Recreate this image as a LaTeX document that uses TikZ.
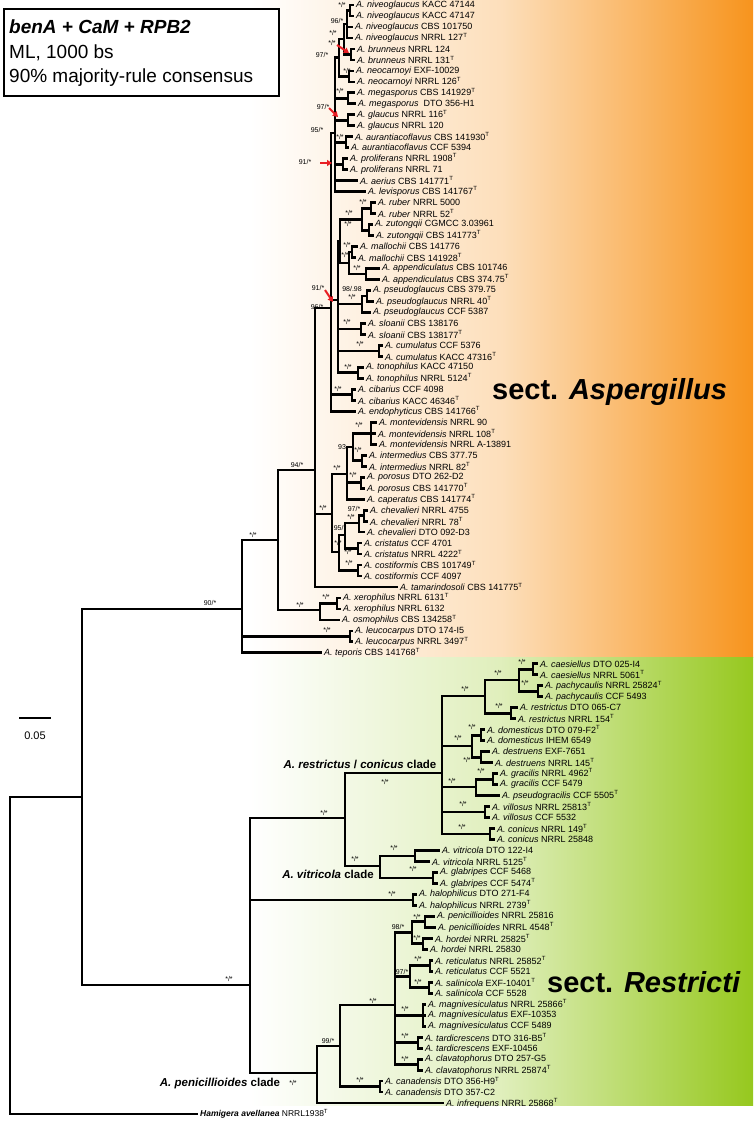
\documentclass[tikz,border=0pt]{standalone}
\usepackage{fontspec}
\setmainfont{Liberation Sans}
\usetikzlibrary{arrows.meta}
\definecolor{sectorange}{RGB}{247,148,29}
\definecolor{sectgreen}{RGB}{150,200,30}
\definecolor{arrred}{RGB}{232,30,36}
\newcommand\spc[1]{\textit{A. #1}}
\newcommand\Tp{\textsuperscript{T}}

\begin{document}
\begin{tikzpicture}[x=1pt, y=-1pt,
  br/.style={line width=2.8pt, line cap=rect},
  tip/.style={anchor=west, inner xsep=3pt, inner ysep=0.5pt, font=\fontsize{9}{10}\selectfont},
  sup/.style={inner sep=0.5pt, font=\fontsize{7}{8}\selectfont},
  clade/.style={inner sep=0pt, font=\bfseries\fontsize{11.5}{13}\selectfont},
  sect/.style={anchor=west, inner sep=0pt, font=\bfseries\fontsize{29}{32}\selectfont},
  redarr/.style={-{Triangle[length=5pt, width=6pt]}, line width=2pt, draw=arrred}
]
\useasboundingbox (0,0) rectangle (753,1122);
\shade[left color=white, right color=sectorange, middle color=sectorange!30] (250,0) rectangle (753,657);
\shade[left color=white, right color=sectgreen, middle color=sectgreen!30] (250,657) rectangle (753,1105);

% legend
\node[draw, line width=1.5pt, fill=white, anchor=north west, minimum width=275pt, minimum height=87pt, inner sep=0pt] (legend) at (3,8) {};
\node[anchor=base west, inner sep=0pt, font=\fontsize{19}{22}\selectfont\bfseries\itshape] (lg1) at (9,33) {benA + CaM + RPB2};
\node[anchor=base west, inner sep=0pt, font=\fontsize{19}{22}\selectfont] (lg2) at (9,58) {ML, 1000 bs};
\node[anchor=base west, inner sep=0pt, font=\fontsize{19}{22}\selectfont] (lg3) at (9,82) {90\% majority-rule consensus};

% scale bar
\coordinate (sb1) at (20,718);
\coordinate (sb2) at (50,718);
\draw[br] (sb1) -- (sb2);
\node[font=\fontsize{11}{12}\selectfont] (sbl) at (35,736) {0.05};

% tips, sect. Aspergillus
\node[tip] (t1) at (353,5) {\spc{niveoglaucus} KACC 47144};
\node[tip] (t2) at (353,16) {\spc{niveoglaucus} KACC 47147};
\node[tip] (t3) at (352,27) {\spc{niveoglaucus} CBS 101750};
\node[tip] (t4) at (352,37.9) {\spc{niveoglaucus} NRRL 127\Tp};
\node[tip] (t5) at (354,48.9) {\spc{brunneus} NRRL 124};
\node[tip] (t6) at (354,59.9) {\spc{brunneus} NRRL 131\Tp};
\node[tip] (t7) at (353,70.9) {\spc{neocarnoyi} EXF-10029};
\node[tip] (t8) at (354,81.9) {\spc{neocarnoyi} NRRL 126\Tp};
\node[tip] (t9) at (354,92.8) {\spc{megasporus} CBS 141929\Tp};
\node[tip] (t10) at (355,103.8) {\spc{megasporus}~ DTO 356-H1};
\node[tip] (t11) at (354,114.8) {\spc{glaucus} NRRL 116\Tp};
\node[tip] (t12) at (354,125.8) {\spc{glaucus} NRRL 120};
\node[tip] (t13) at (352,136.8) {\spc{aurantiacoflavus} CBS 141930\Tp};
\node[tip] (t14) at (348,147.7) {\spc{aurantiacoflavus} CCF 5394};
\node[tip] (t15) at (347,158.7) {\spc{proliferans} NRRL 1908\Tp};
\node[tip] (t16) at (347,169.7) {\spc{proliferans} NRRL 71};
\node[tip] (t17) at (357,180.7) {\spc{aerius} CBS 141771\Tp};
\node[tip] (t18) at (365,191.7) {\spc{levisporus} CBS 141767\Tp};
\node[tip] (t19) at (375,202.6) {\spc{ruber} NRRL 5000};
\node[tip] (t20) at (375,213.6) {\spc{ruber} NRRL 52\Tp};
\node[tip] (t21) at (372,224.6) {\spc{zutongqii} CGMCC 3.03961};
\node[tip] (t22) at (373,235.6) {\spc{zutongqii} CBS 141773\Tp};
\node[tip] (t23) at (357,246.6) {\spc{mallochii} CBS 141776};
\node[tip] (t24) at (355,257.5) {\spc{mallochii} CBS 141928\Tp};
\node[tip] (t25) at (379,268.5) {\spc{appendiculatus} CBS 101746};
\node[tip] (t26) at (379,279.5) {\spc{appendiculatus} CBS 374.75\Tp};
\node[tip] (t27) at (370,290.5) {\spc{pseudoglaucus} CBS 379.75};
\node[tip] (t28) at (373,301.5) {\spc{pseudoglaucus} NRRL 40\Tp};
\node[tip] (t29) at (370,312.4) {\spc{pseudoglaucus} CCF 5387};
\node[tip] (t30) at (365,323.4) {\spc{sloanii} CBS 138176};
\node[tip] (t31) at (365,334.4) {\spc{sloanii} CBS 138177\Tp};
\node[tip] (t32) at (382,345.4) {\spc{cumulatus} CCF 5376};
\node[tip] (t33) at (382,356.4) {\spc{cumulatus} KACC 47316\Tp};
\node[tip] (t34) at (363,367.3) {\spc{tonophilus} KACC 47150};
\node[tip] (t35) at (363,378.3) {\spc{tonophilus} NRRL 5124\Tp};
\node[tip] (t36) at (355,389.3) {\spc{cibarius} CCF 4098};
\node[tip] (t37) at (355,400.3) {\spc{cibarius} KACC 46346\Tp};
\node[tip] (t38) at (355,411.3) {\spc{endophyticus} CBS 141766\Tp};
\node[tip] (t39) at (376,422.2) {\spc{montevidensis} NRRL 90};
\node[tip] (t40) at (375,433.2) {\spc{montevidensis} NRRL 108\Tp};
\node[tip] (t41) at (376,444.2) {\spc{montevidensis} NRRL A-13891};
\node[tip] (t42) at (366,455.2) {\spc{intermedius} CBS 377.75};
\node[tip] (t43) at (366,466.2) {\spc{intermedius} NRRL 82\Tp};
\node[tip] (t44) at (364,477.1) {\spc{porosus} DTO 262-D2};
\node[tip] (t45) at (364,488.1) {\spc{porosus} CBS 141770\Tp};
\node[tip] (t46) at (364,499.1) {\spc{caperatus} CBS 141774\Tp};
\node[tip] (t47) at (367,510.1) {\spc{chevalieri} NRRL 4755};
\node[tip] (t48) at (367,521.1) {\spc{chevalieri} NRRL 78\Tp};
\node[tip] (t49) at (364,532) {\spc{chevalieri} DTO 092-D3};
\node[tip] (t50) at (361,543) {\spc{cristatus} CCF 4701};
\node[tip] (t51) at (361,554) {\spc{cristatus} NRRL 4222\Tp};
\node[tip] (t52) at (361,565) {\spc{costiformis} CBS 101749\Tp};
\node[tip] (t53) at (361,576) {\spc{costiformis} CCF 4097};
\node[tip] (t54) at (397,586.9) {\spc{tamarindosoli} CBS 141775\Tp};
\node[tip] (t55) at (340,597.9) {\spc{xerophilus} NRRL 6131\Tp};
\node[tip] (t56) at (340,608.9) {\spc{xerophilus} NRRL 6132};
\node[tip] (t57) at (339,619.9) {\spc{osmophilus} CBS 134258\Tp};
\node[tip] (t58) at (352,630.9) {\spc{leucocarpus} DTO 174-I5};
\node[tip] (t59) at (352,641.8) {\spc{leucocarpus} NRRL 3497\Tp};
\node[tip] (t60) at (321,652.8) {\spc{teporis} CBS 141768\Tp};

% tips, sect. Restricti
\node[tip] (t61) at (537,663.8) {\spc{caesiellus} DTO 025-I4};
\node[tip] (t62) at (537,674.8) {\spc{caesiellus} NRRL 5061\Tp};
\node[tip] (t63) at (542,685.8) {\spc{pachycaulis} NRRL 25824\Tp};
\node[tip] (t64) at (542,696.7) {\spc{pachycaulis} CCF 5493};
\node[tip] (t65) at (517,707.7) {\spc{restrictus} DTO 065-C7};
\node[tip] (t66) at (515,718.7) {\spc{restrictus} NRRL 154\Tp};
\node[tip] (t67) at (484,729.7) {\spc{domesticus} DTO 079-F2\Tp};
\node[tip] (t68) at (484,740.7) {\spc{domesticus} IHEM 6549};
\node[tip] (t69) at (489,751.6) {\spc{destruens} EXF-7651};
\node[tip] (t70) at (492,762.6) {\spc{destruens} NRRL 145\Tp};
\node[tip] (t71) at (497,773.6) {\spc{gracilis} NRRL 4962\Tp};
\node[tip] (t72) at (497,784.6) {\spc{gracilis} CCF 5479};
\node[tip] (t73) at (499,795.6) {\spc{pseudogracilis} CCF 5505\Tp};
\node[tip] (t74) at (489,806.5) {\spc{villosus} NRRL 25813\Tp};
\node[tip] (t75) at (489,817.5) {\spc{villosus} CCF 5532};
\node[tip] (t76) at (494,828.5) {\spc{conicus} NRRL 149\Tp};
\node[tip] (t77) at (494,839.5) {\spc{conicus} NRRL 25848};
\node[tip] (t78) at (439,850.5) {\spc{vitricola} DTO 122-I4};
\node[tip] (t79) at (429,861.4) {\spc{vitricola} NRRL 5125\Tp};
\node[tip] (t80) at (437,872.4) {\spc{glabripes} CCF 5468};
\node[tip] (t81) at (437,883.4) {\spc{glabripes} CCF 5474\Tp};
\node[tip] (t82) at (416,894.4) {\spc{halophilicus} DTO 271-F4};
\node[tip] (t83) at (416,905.4) {\spc{halophilicus} NRRL 2739\Tp};
\node[tip] (t84) at (434,916.3) {\spc{penicillioides} NRRL 25816};
\node[tip] (t85) at (435,927.3) {\spc{penicillioides} NRRL 4548\Tp};
\node[tip] (t86) at (432,938.3) {\spc{hordei} NRRL 25825\Tp};
\node[tip] (t87) at (427,949.3) {\spc{hordei} NRRL 25830};
\node[tip] (t88) at (432,960.3) {\spc{reticulatus} NRRL 25852\Tp};
\node[tip] (t89) at (432,971.2) {\spc{reticulatus} CCF 5521};
\node[tip] (t90) at (432,982.2) {\spc{salinicola} EXF-10401\Tp};
\node[tip] (t91) at (432,993.2) {\spc{salinicola} CCF 5528};
\node[tip] (t92) at (425,1004.2) {\spc{magnivesiculatus} NRRL 25866\Tp};
\node[tip] (t93) at (425,1015.2) {\spc{magnivesiculatus} EXF-10353};
\node[tip] (t94) at (425,1026.1) {\spc{magnivesiculatus} CCF 5489};
\node[tip] (t95) at (422,1037.1) {\spc{tardicrescens} DTO 316-B5\Tp};
\node[tip] (t96) at (422,1048.1) {\spc{tardicrescens} EXF-10456};
\node[tip] (t97) at (422,1059.1) {\spc{clavatophorus} DTO 257-G5};
\node[tip] (t98) at (422,1070.1) {\spc{clavatophorus} NRRL 25874\Tp};
\node[tip] (t99) at (382,1081) {\spc{canadensis} DTO 356-H9\Tp};
\node[tip] (t100) at (382,1092) {\spc{canadensis} DTO 357-C2};
\node[tip] (t101) at (443,1103) {\spc{infrequens} NRRL 25868\Tp};
\node[tip, font=\fontsize{8.5}{9}\selectfont] (t102) at (197,1114) {\textbf{\textit{Hamigera avellanea}} NRRL1938\Tp};

% internal nodes, sect. Aspergillus
\coordinate (nv12) at (350,10.5);
\coordinate (nv) at (347,24);
\coordinate (bru) at (351,54.4);
\coordinate (nb) at (344,39);
\coordinate (neo) at (349,76.4);
\coordinate (nbn) at (339,57.7);
\coordinate (meg) at (348,98.3);
\coordinate (gla) at (348,120.3);
\coordinate (aur) at (346,142.3);
\coordinate (pro) at (343,164.2);
\coordinate (u95) at (335,133);
\coordinate (rub) at (371,208.1);
\coordinate (zut) at (369,230.1);
\coordinate (rz) at (362,219.1);
\coordinate (mal) at (352,252);
\coordinate (app) at (366,274);
\coordinate (ma) at (349,263);
\coordinate (rzm) at (340,241);
\coordinate (psg1) at (367,296);
\coordinate (psg) at (362,304);
\coordinate (slo) at (361,328.9);
\coordinate (cum) at (379,350.9);
\coordinate (ton) at (358,372.8);
\coordinate (w91) at (338,300);
\coordinate (cib) at (352,394.8);
\coordinate (x331) at (331,308);
\coordinate (mon) at (371,433.2);
\coordinate (int) at (362,460.7);
\coordinate (mi) at (353,447);
\coordinate (por) at (361,482.6);
\coordinate (pcl) at (347,474);
\coordinate (che1) at (364,515.6);
\coordinate (che) at (359,523);
\coordinate (cri) at (358,548.5);
\coordinate (cos) at (358,570.5);
\coordinate (cc1) at (345,535);
\coordinate (cc) at (339,552);
\coordinate (qcl) at (332,514);
\coordinate (a2) at (315,470);
\coordinate (xer) at (337,603.4);
\coordinate (xo) at (320,610);
\coordinate (a1) at (278,540);
\coordinate (leu) at (350,636.4);
\coordinate (a0) at (242,609);

% internal nodes, sect. Restricti
\coordinate (cae) at (533,669.3);
\coordinate (pac) at (538,691.2);
\coordinate (cp) at (519,680);
\coordinate (res) at (511,713.2);
\coordinate (r1) at (485,696);
\coordinate (dom) at (481,735.2);
\coordinate (des) at (481,757.1);
\coordinate (dd) at (472,746);
\coordinate (gra) at (493,779.1);
\coordinate (gp) at (476,787);
\coordinate (vil) at (485,812);
\coordinate (con) at (490,834);
\coordinate (rc) at (442,773);
\coordinate (vit) at (415,856);
\coordinate (gla2) at (433,877.9);
\coordinate (vc) at (380,866);
\coordinate (n345) at (345,818);
\coordinate (hal) at (413,899.9);
\coordinate (pen) at (425,921.8);
\coordinate (hor) at (423,943.8);
\coordinate (ph) at (412,932.8);
\coordinate (ret) at (430,965.8);
\coordinate (sal) at (429,987.7);
\coordinate (rsn) at (410,976.8);
\coordinate (mgv) at (423,1015.2);
\coordinate (tar) at (418,1042.6);
\coordinate (cla) at (418,1064.6);
\coordinate (pcn) at (395,1005);
\coordinate (can) at (380,1086.5);
\coordinate (n340) at (340,1046);
\coordinate (n317) at (317,1073);
\coordinate (n250) at (250,985);
\coordinate (ing) at (82,797);
\coordinate (root) at (10,955);

% branches
\draw[br] (nv12) |- (t1.west) (nv12) |- (t2.west);
\draw[br] (nv) |- (nv12) (nv) |- (t3.west) (nv) |- (t4.west);
\draw[br] (bru) |- (t5.west) (bru) |- (t6.west);
\draw[br] (nb) |- (nv) (nb) |- (bru);
\draw[br] (neo) |- (t7.west) (neo) |- (t8.west);
\draw[br] (nbn) |- (nb) (nbn) |- (neo);
\draw[br] (meg) |- (t9.west) (meg) |- (t10.west);
\draw[br] (gla) |- (t11.west) (gla) |- (t12.west);
\draw[br] (aur) |- (t13.west) (aur) |- (t14.west);
\draw[br] (pro) |- (t15.west) (pro) |- (t16.west);
\draw[br] (u95) |- (nbn) (u95) |- (meg) (u95) |- (gla) (u95) |- (aur) (u95) |- (pro) (u95) |- (t17.west) (u95) |- (t18.west);
\draw[br] (rub) |- (t19.west) (rub) |- (t20.west);
\draw[br] (zut) |- (t21.west) (zut) |- (t22.west);
\draw[br] (rz) |- (rub) (rz) |- (zut);
\draw[br] (mal) |- (t23.west) (mal) |- (t24.west);
\draw[br] (app) |- (t25.west) (app) |- (t26.west);
\draw[br] (ma) |- (mal) (ma) |- (app);
\draw[br] (rzm) |- (rz) (rzm) |- (ma);
\draw[br] (psg1) |- (t27.west) (psg1) |- (t28.west);
\draw[br] (psg) |- (psg1) (psg) |- (t29.west);
\draw[br] (slo) |- (t30.west) (slo) |- (t31.west);
\draw[br] (cum) |- (t32.west) (cum) |- (t33.west);
\draw[br] (ton) |- (t34.west) (ton) |- (t35.west);
\draw[br] (w91) |- (rzm) (w91) |- (psg) (w91) |- (slo) (w91) |- (cum) (w91) |- (ton);
\draw[br] (cib) |- (t36.west) (cib) |- (t37.west);
\draw[br] (x331) |- (u95) (x331) |- (w91) (x331) |- (cib) (x331) |- (t38.west);
\draw[br] (mon) |- (t39.west) (mon) |- (t40.west) (mon) |- (t41.west);
\draw[br] (int) |- (t42.west) (int) |- (t43.west);
\draw[br] (mi) |- (mon) (mi) |- (int);
\draw[br] (por) |- (t44.west) (por) |- (t45.west);
\draw[br] (pcl) |- (mi) (pcl) |- (por) (pcl) |- (t46.west);
\draw[br] (che1) |- (t47.west) (che1) |- (t48.west);
\draw[br] (che) |- (che1) (che) |- (t49.west);
\draw[br] (cri) |- (t50.west) (cri) |- (t51.west);
\draw[br] (cos) |- (t52.west) (cos) |- (t53.west);
\draw[br] (cc1) |- (che) (cc1) |- (cri);
\draw[br] (cc) |- (cc1) (cc) |- (cos);
\draw[br] (qcl) |- (pcl) (qcl) |- (cc);
\draw[br] (a2) |- (x331) (a2) |- (qcl) (a2) |- (t54.west);
\draw[br] (xer) |- (t55.west) (xer) |- (t56.west);
\draw[br] (xo) |- (xer) (xo) |- (t57.west);
\draw[br] (a1) |- (a2) (a1) |- (xo);
\draw[br] (leu) |- (t58.west) (leu) |- (t59.west);
\draw[br] (a0) |- (a1) (a0) |- (leu) (a0) |- (t60.west);

\draw[br] (cae) |- (t61.west) (cae) |- (t62.west);
\draw[br] (pac) |- (t63.west) (pac) |- (t64.west);
\draw[br] (cp) |- (cae) (cp) |- (pac);
\draw[br] (res) |- (t65.west) (res) |- (t66.west);
\draw[br] (r1) |- (cp) (r1) |- (res);
\draw[br] (dom) |- (t67.west) (dom) |- (t68.west);
\draw[br] (des) |- (t69.west) (des) |- (t70.west);
\draw[br] (dd) |- (dom) (dd) |- (des);
\draw[br] (gra) |- (t71.west) (gra) |- (t72.west);
\draw[br] (gp) |- (gra) (gp) |- (t73.west);
\draw[br] (vil) |- (t74.west) (vil) |- (t75.west);
\draw[br] (con) |- (t76.west) (con) |- (t77.west);
\draw[br] (rc) |- (r1) (rc) |- (dd) (rc) |- (gp) (rc) |- (vil) (rc) |- (con);
\draw[br] (vit) |- (t78.west) (vit) |- (t79.west);
\draw[br] (gla2) |- (t80.west) (gla2) |- (t81.west);
\draw[br] (vc) |- (vit) (vc) |- (gla2);
\draw[br] (n345) |- (rc) (n345) |- (vc);
\draw[br] (hal) |- (t82.west) (hal) |- (t83.west);
\draw[br] (pen) |- (t84.west) (pen) |- (t85.west);
\draw[br] (hor) |- (t86.west) (hor) |- (t87.west);
\draw[br] (ph) |- (pen) (ph) |- (hor);
\draw[br] (ret) |- (t88.west) (ret) |- (t89.west);
\draw[br] (sal) |- (t90.west) (sal) |- (t91.west);
\draw[br] (rsn) |- (ret) (rsn) |- (sal);
\draw[br] (mgv) |- (t92.west) (mgv) |- (t93.west) (mgv) |- (t94.west);
\draw[br] (tar) |- (t95.west) (tar) |- (t96.west);
\draw[br] (cla) |- (t97.west) (cla) |- (t98.west);
\draw[br] (pcn) |- (ph) (pcn) |- (rsn) (pcn) |- (mgv) (pcn) |- (tar) (pcn) |- (cla);
\draw[br] (can) |- (t99.west) (can) |- (t100.west);
\draw[br] (n340) |- (pcn) (n340) |- (can);
\draw[br] (n317) |- (n340) (n317) |- (t101.west);
\draw[br] (n250) |- (n345) (n250) |- (hal) (n250) |- (n317);
\draw[br] (ing) |- (a0) (ing) |- (n250);
\draw[br] (root) |- (ing) (root) |- (t102.west);

% support values
\node[sup] (s1) at (342,5) {*/*};
\node[sup] (s2) at (337,21) {96/*};
\node[sup] (s3) at (333,33) {*/*};
\node[sup] (s4) at (332,43) {*/*};
\node[sup] (s5) at (322,55) {97/*};
\node[sup] (s6) at (347,71) {*/*};
\node[sup] (s7) at (340,91) {*/*};
\node[sup] (s8) at (323,107) {97/*};
\node[sup] (s9) at (317,130) {95/*};
\node[sup] (s10) at (340,137) {*/*};
\node[sup] (s11) at (305,162) {91/*};
\node[sup] (s12) at (363,202) {*/*};
\node[sup] (s13) at (349,213) {*/*};
\node[sup] (s14) at (348,224) {*/*};
\node[sup] (s15) at (347,245) {*/*};
\node[sup] (s16) at (345,255) {*/*};
\node[sup] (s17) at (357,268) {*/*};
\node[sup] (s18) at (352,289) {98/.98};
\node[sup] (s19) at (318,288) {91/*};
\node[sup] (s20) at (352,297) {*/*};
\node[sup] (s21) at (317,307) {96/*};
\node[sup] (s22) at (347,322) {*/*};
\node[sup] (s23) at (360,344) {*/*};
\node[sup] (s24) at (348,367) {*/*};
\node[sup] (s25) at (338,389) {*/*};
\node[sup] (s26) at (359,425) {*/*};
\node[sup] (s27) at (342,447) {93};
\node[sup] (s28) at (358,450) {*/*};
\node[sup] (s29) at (337,468) {*/*};
\node[sup] (s30) at (353,475) {*/*};
\node[sup] (s31) at (297,465) {94/*};
\node[sup] (s32) at (354,509) {97/*};
\node[sup] (s33) at (323,508) {*/*};
\node[sup] (s34) at (351,517) {*/*};
\node[sup] (s35) at (340,528) {95/*};
\node[sup] (s36) at (338,543) {*/*};
\node[sup] (s37) at (348,552) {*/*};
\node[sup] (s38) at (349,563) {*/*};
\node[sup] (s39) at (253,535) {*/*};
\node[sup] (s40) at (326,597) {*/*};
\node[sup] (s41) at (300,605) {*/*};
\node[sup] (s42) at (210,603) {90/*};
\node[sup] (s43) at (327,630) {*/*};
\node[sup] (s44) at (522,662) {*/*};
\node[sup] (s45) at (525,683) {*/*};
\node[sup] (s46) at (498,673) {*/*};
\node[sup] (s47) at (499,706) {*/*};
\node[sup] (s48) at (465,689) {*/*};
\node[sup] (s49) at (472,727) {*/*};
\node[sup] (s50) at (458,738) {*/*};
\node[sup] (s51) at (467,760) {*/*};
\node[sup] (s52) at (481,771) {*/*};
\node[sup] (s53) at (452,781) {*/*};
\node[sup] (s54) at (463,804) {*/*};
\node[sup] (s55) at (462,827) {*/*};
\node[sup] (s56) at (385,782) {*/*};
\node[sup] (s57) at (324,813) {*/*};
\node[sup] (s58) at (394,848) {*/*};
\node[sup] (s59) at (413,869) {*/*};
\node[sup] (s60) at (355,859) {*/*};
\node[sup] (s61) at (392,894) {*/*};
\node[sup] (s62) at (417,917) {*/*};
\node[sup] (s63) at (417,938) {*/*};
\node[sup] (s64) at (398,927) {98/*};
\node[sup] (s65) at (418,959) {*/*};
\node[sup] (s66) at (418,982) {*/*};
\node[sup] (s67) at (402,972) {97/*};
\node[sup] (s68) at (405,1009) {*/*};
\node[sup] (s69) at (405,1036) {*/*};
\node[sup] (s70) at (405,1059) {*/*};
\node[sup] (s71) at (373,1001) {*/*};
\node[sup] (s72) at (360,1080) {*/*};
\node[sup] (s73) at (328,1041) {99/*};
\node[sup] (s74) at (293,1083) {*/*};
\node[sup] (s75) at (229,979) {*/*};

% red arrows
\coordinate (ra1) at (337,45);
\coordinate (rb1) at (349,53);
\coordinate (ra2) at (329,108);
\coordinate (rb2) at (338,117);
\coordinate (ra3) at (320,163);
\coordinate (rb3) at (332,163);
\coordinate (ra4) at (325,290);
\coordinate (rb4) at (333,302);
\draw[redarr] (ra1) -- (rb1);
\draw[redarr] (ra2) -- (rb2);
\draw[redarr] (ra3) -- (rb3);
\draw[redarr] (ra4) -- (rb4);

% clade and section names
\node[clade] (cl1) at (360,764) {\textit{A. restrictus} / \textit{conicus} clade};
\node[clade] (cl2) at (328,874) {\textit{A. vitricola} clade};
\node[clade] (cl3) at (220,1084) {\textit{A. penicillioides} clade};
\node[sect] (secA) at (492,392) {sect. \textit{Aspergillus}};
\node[sect] (secR) at (547,982) {sect. \textit{Restricti}};
\end{tikzpicture}
\end{document}
